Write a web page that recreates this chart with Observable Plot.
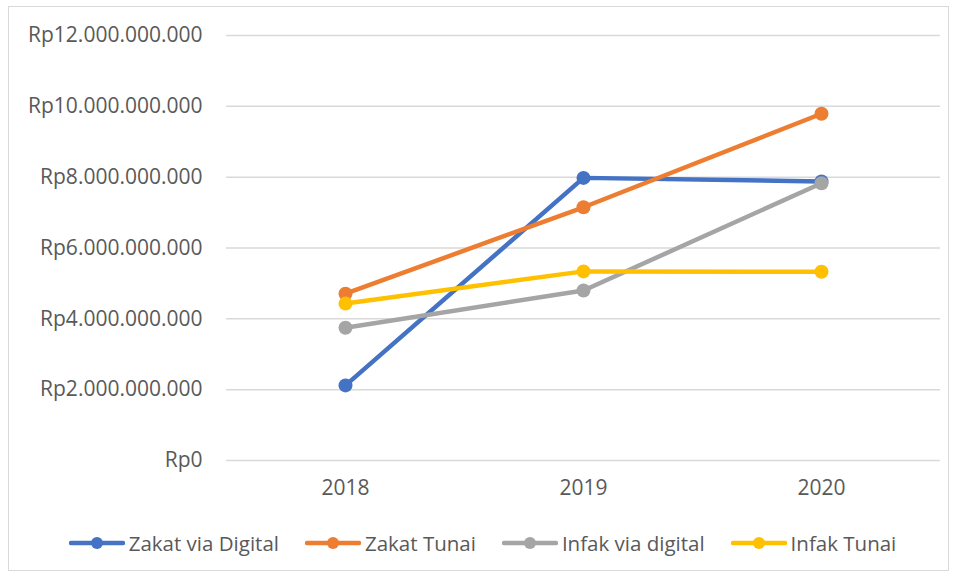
<!DOCTYPE html>
<html>
<head>
<meta charset="utf-8">
<script src="https://cdn.jsdelivr.net/npm/d3@7"></script>
<script src="https://cdn.jsdelivr.net/npm/@observablehq/plot@0.6"></script>
<style>
  body { margin: 0; background: #fff; font-family: "Open Sans", sans-serif; }
  #frame { position: absolute; left: 8px; top: 6px; width: 941px; height: 565px; border: 1px solid #d9d9d9; box-sizing: border-box; }
  #chart { position: absolute; left: 0; top: 0; }
  #legend { position: absolute; left: 0; top: 529px; width: 957px; display: flex; justify-content: center; gap: 26px; font-size: 20.5px; color: #595959; padding-left: 8px; box-sizing: border-box; }
  .item { display: flex; align-items: center; gap: 4px; }
</style>
</head>
<body>
<div id="frame"></div>
<div id="chart"></div>
<div id="legend"></div>
<script>
const years = ["2018", "2019", "2020"];
const seriesNames = ["Zakat via Digital", "Zakat Tunai", "Infak via digital", "Infak Tunai"];
const zakatDigital = [2.12e9, 7.98e9, 7.88e9];
const zakatTunai = [4.71e9, 7.15e9, 9.79e9];
const infakDigital = [3.75e9, 4.80e9, 7.83e9];
const infakTunai = [4.43e9, 5.34e9, 5.33e9];
const colors = ["#4472C4", "#ED7D31", "#A5A5A5", "#FFC000"];
const yTicks = [0, 2e9, 4e9, 6e9, 8e9, 10e9, 12e9];

const allSeries = [zakatDigital, zakatTunai, infakDigital, infakTunai];
const data = [];
seriesNames.forEach((name, i) => {
  years.forEach((yr, j) => data.push({series: name, year: yr, value: allSeries[i][j]}));
});

const locale = d3.formatLocale({decimal: ",", thousands: ".", grouping: [3], currency: ["Rp", ""]});
const fmt = locale.format("$,.0f");

const plot = Plot.plot({
  width: 957,
  height: 500,
  marginLeft: 226,
  marginRight: 17,
  marginTop: 35,
  marginBottom: 40,
  style: {fontFamily: "Open Sans, sans-serif", fontSize: "21px", color: "#595959", background: "transparent"},
  x: {type: "point", domain: years, padding: 0.5, label: null, tickSize: 0, tickPadding: 20},
  y: {domain: [0, 12e9], ticks: yTicks, tickFormat: fmt, label: null, tickSize: 0, tickPadding: 24},
  color: {domain: seriesNames, range: colors},
  marks: [
    Plot.gridY(yTicks, {stroke: "#d9d9d9", strokeOpacity: 1, strokeWidth: 1.5}),
    Plot.line(data, {x: "year", y: "value", z: "series", stroke: "series", strokeWidth: 4.5}),
    Plot.dot(data, {x: "year", y: "value", fill: "series", r: 7})
  ]
});
document.getElementById("chart").appendChild(plot);

const legend = d3.select("#legend");
seriesNames.forEach((name, i) => {
  const item = legend.append("div").attr("class", "item");
  const svg = item.append("svg").attr("width", 56).attr("height", 14);
  svg.append("line").attr("x1", 2).attr("x2", 54).attr("y1", 7).attr("y2", 7)
    .attr("stroke", colors[i]).attr("stroke-width", 4.5).attr("stroke-linecap", "round");
  svg.append("circle").attr("cx", 28).attr("cy", 7).attr("r", 6).attr("fill", colors[i]);
  item.append("span").text(name);
});
</script>
</body>
</html>
